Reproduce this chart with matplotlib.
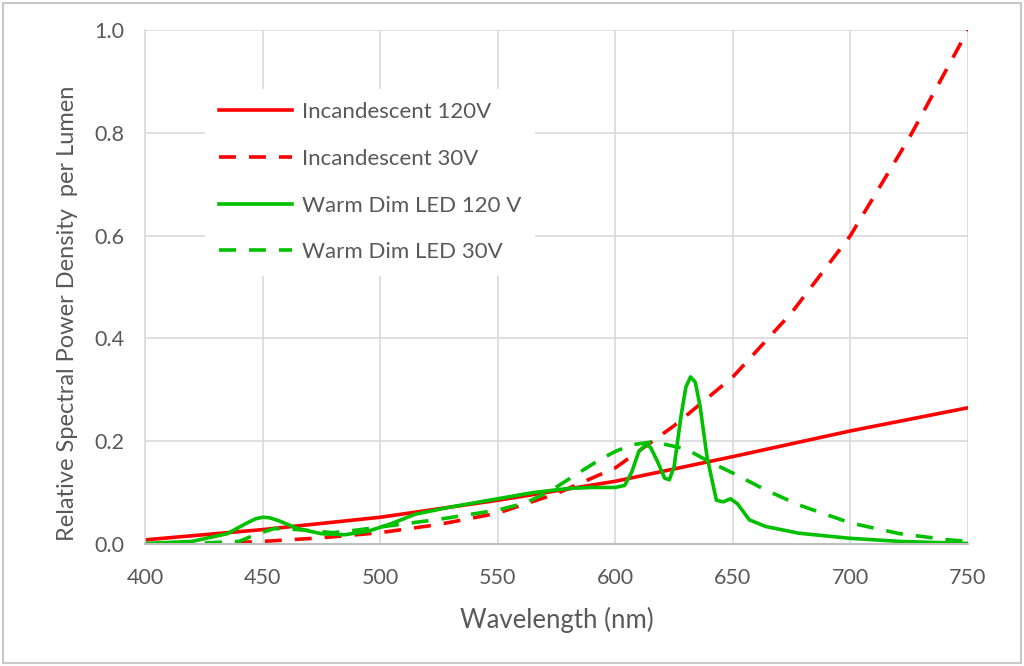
import matplotlib.pyplot as plt
from matplotlib.patches import Rectangle

plt.rcParams['font.family'] = ['Lato', 'DejaVu Sans']

# Incandescent 120V (solid red)
inc120_nm = [400, 450, 500, 550, 600, 650, 700, 750]
inc120_val = [0.008, 0.028, 0.052, 0.085, 0.122, 0.170, 0.220, 0.265]

# Incandescent 30V (dashed red)
inc30_nm = [400, 430, 450, 475, 500, 525, 550, 575, 600, 625, 650, 675, 700, 725, 750]
inc30_val = [0.0, 0.001, 0.005, 0.012, 0.022, 0.038, 0.060, 0.098, 0.148, 0.230, 0.325, 0.450, 0.600, 0.790, 1.0]

# Warm Dim LED 120 V (solid green)
led120_nm = [400, 420, 435, 443, 447, 450, 453, 457, 465, 475, 485, 495, 505, 515, 530, 550, 565,
             580, 590, 600, 604, 607, 610, 613, 615, 618, 621, 623, 625, 628, 630, 632, 634, 636,
             639, 643, 646, 649, 652, 657, 664, 678, 700, 721, 750]
led120_val = [0.001, 0.005, 0.020, 0.040, 0.049, 0.052, 0.051, 0.045, 0.030, 0.020, 0.018, 0.025,
              0.040, 0.058, 0.072, 0.088, 0.100, 0.108, 0.110, 0.110, 0.114, 0.140, 0.180, 0.193,
              0.188, 0.160, 0.128, 0.125, 0.150, 0.250, 0.305, 0.325, 0.315, 0.270, 0.170, 0.085,
              0.082, 0.088, 0.078, 0.047, 0.034, 0.021, 0.011, 0.005, 0.001]

# Warm Dim LED 30V (dashed green)
led30_nm = [400, 425, 440, 448, 455, 465, 480, 490, 500, 525, 550, 562, 573, 585, 593, 600, 607,
            615, 620, 630, 640, 650, 664, 678, 700, 721, 742, 750]
led30_val = [0.0, 0.002, 0.005, 0.020, 0.030, 0.028, 0.022, 0.027, 0.033, 0.048, 0.066, 0.080,
             0.105, 0.140, 0.163, 0.180, 0.193, 0.198, 0.195, 0.185, 0.160, 0.138, 0.105, 0.076,
             0.041, 0.020, 0.008, 0.005]

red = '#ff0000'
green = '#00c000'
grey_text = '#595959'

fig = plt.figure(figsize=(10.24, 6.66), dpi=100)
ax = fig.add_axes([0.1416, 0.1832, 0.8037, 0.7718])

lw = 2.6
dash = (4.7, 3.6)
ax.plot(inc120_nm, inc120_val, color=red, lw=lw, label='Incandescent 120V')
ax.plot(inc30_nm, inc30_val, color=red, lw=lw, dashes=dash, label='Incandescent 30V')
ax.plot(led120_nm, led120_val, color=green, lw=lw, label='Warm Dim LED 120 V')
ax.plot(led30_nm, led30_val, color=green, lw=lw, dashes=dash, label='Warm Dim LED 30V')

ax.set_xlim(400, 750)
ax.set_ylim(0, 1.0)
ax.set_xticks(range(400, 751, 50))
ax.set_yticks([0.0, 0.2, 0.4, 0.6, 0.8, 1.0])
ax.set_yticklabels(['0.0', '0.2', '0.4', '0.6', '0.8', '1.0'])
ax.grid(True, color='#d9d9d9', lw=1.2)
ax.set_axisbelow(True)
ax.tick_params(length=0, labelsize=15.5, labelcolor=grey_text)
ax.tick_params(axis='x', pad=17)
ax.tick_params(axis='y', pad=15)
for s in ['top', 'right']:
    ax.spines[s].set_visible(False)
ax.spines['left'].set_color('#d9d9d9')
ax.spines['left'].set_linewidth(1.2)
ax.spines['bottom'].set_color('#bfbfbf')
ax.spines['bottom'].set_linewidth(1.5)

ax.set_xlabel('Wavelength (nm)', fontsize=18.5, color=grey_text, labelpad=14)
fig.text(0.066, 0.53, 'Relative Spectral Power Density  per Lumen', rotation=90,
         fontsize=17, color=grey_text, ha='center', va='center')

leg = ax.legend(loc='upper left', bbox_to_anchor=(0.06, 0.907), fontsize=16, frameon=True,
                handlelength=3.3, labelspacing=1.2, borderpad=0.6, handletextpad=0.45)
leg.get_frame().set_facecolor('white')
leg.get_frame().set_edgecolor('none')
leg.get_frame().set_alpha(1)
for t in leg.get_texts():
    t.set_color(grey_text)

fig.patches.append(Rectangle((0.003, 0.004), 0.994, 0.992, transform=fig.transFigure,
                             fill=False, edgecolor='#c8c8c8', lw=1.5))

fig.savefig('out.png', dpi=100)
